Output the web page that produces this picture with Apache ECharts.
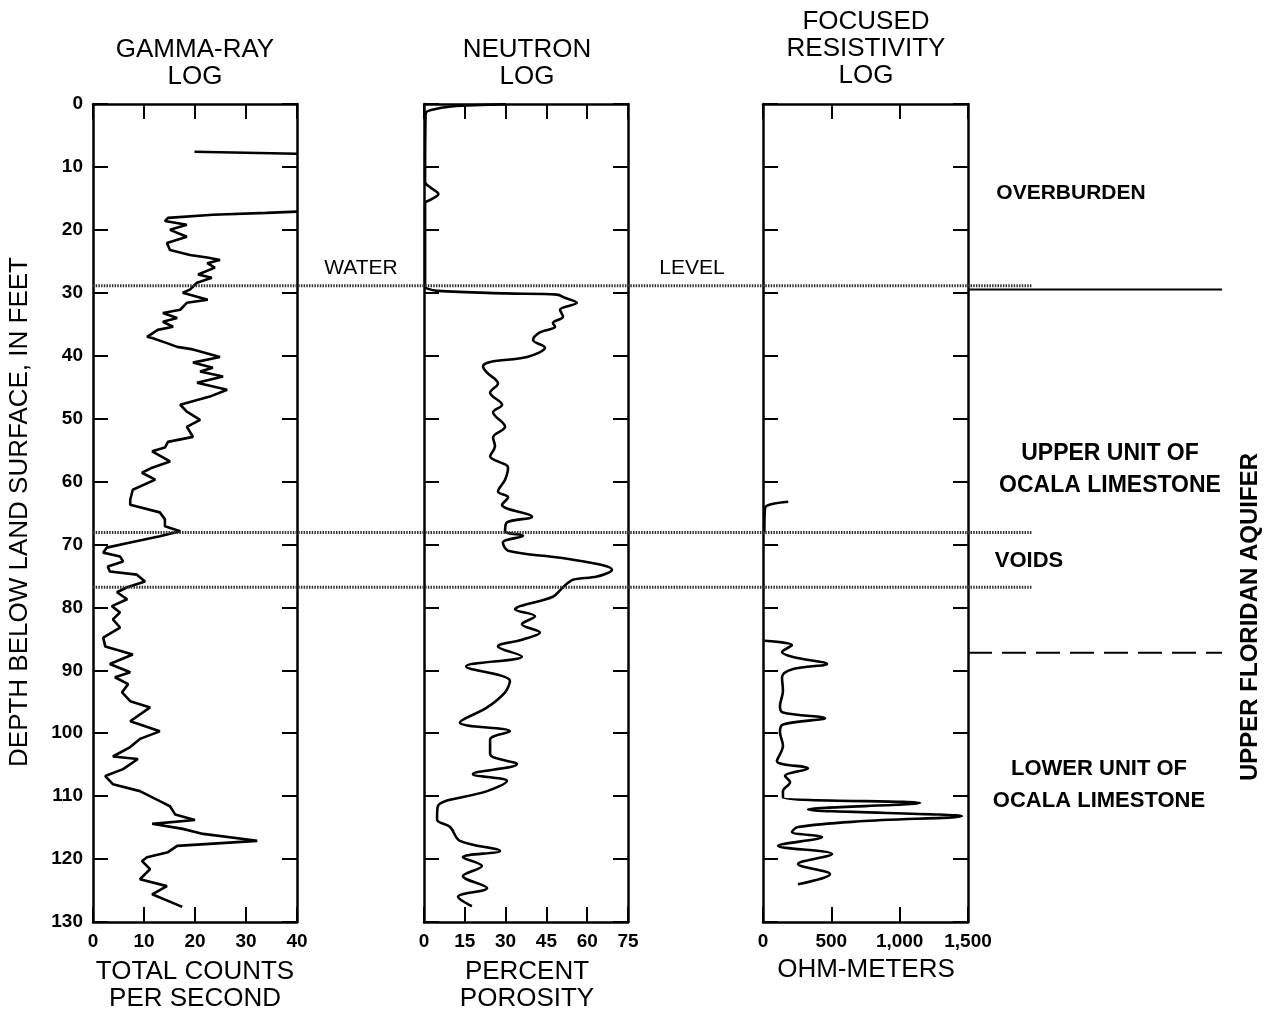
<!DOCTYPE html>
<html>
<head>
<meta charset="utf-8">
<title>Borehole geophysical logs</title>
<script src="https://cdn.jsdelivr.net/npm/echarts@6/dist/echarts.min.js"></script>
<style>
  html, body { margin: 0; padding: 0; background: #fff; }
  #chart { width: 1272px; height: 1018px; }
</style>
</head>
<body>
<div id="chart"></div>
<script>
// ---- Log data: [depth below land surface (ft), reading]; null breaks the trace ----
const gammaRay = [
  [7.6, 19.9], [7.9, 40], null,
  [17.1, 40], [17.3, 34], [17.6, 23.5], [18.1, 14.7], [18.6, 14.1], [19.2, 18.4], [20.0, 15.1],
  [21.1, 18.4], [22.1, 14.5], [23.2, 15.1], [24.0, 19.0], [24.4, 22.4], [24.8, 24.9], [25.3, 22.4],
  [26.0, 23.9], [27.1, 20.6], [27.6, 23.3], [28.4, 20.4], [29.5, 19.0], [30.0, 17.6], [31.1, 22.5],
  [31.6, 18.4], [32.7, 17.1], [33.2, 13.7], [34.0, 16.5], [34.6, 13.7], [35.4, 15.7], [35.9, 12.7],
  [37.0, 10.6], [37.2, 11.6], [38.0, 14.5], [38.6, 16.5], [39.0, 19.6], [40.2, 24.9], [41.1, 19.6],
  [41.9, 23.5], [42.5, 21.0], [43.3, 25.5], [44.3, 20.4], [45.4, 26.3], [46.5, 22.9], [47.8, 17.1],
  [48.9, 18.4], [50.2, 21.0], [51.3, 18.4], [52.9, 19.6], [53.7, 14.7], [54.6, 14.1], [55.2, 11.6],
  [56.8, 15.1], [57.8, 11.6], [58.6, 9.6], [59.7, 12.2], [61.3, 7.8], [62.9, 7.3], [63.7, 7.3],
  [64.9, 13.1], [66.0, 14.1], [67.1, 14.1], [67.9, 17.1], [68.7, 13.1], [69.7, 7.3], [70.5, 2.7],
  [71.3, 2.0], [71.9, 5.3], [72.7, 5.9], [73.5, 2.9], [74.3, 3.3], [74.8, 8.6], [75.9, 10.2],
  [76.8, 6.7], [77.6, 4.7], [78.7, 6.7], [79.8, 3.7], [80.8, 5.3], [81.9, 3.9], [83.2, 5.3],
  [84.8, 2.0], [86.2, 2.4], [87.5, 7.8], [89.0, 3.3], [90.3, 7.3], [91.1, 4.3], [92.2, 6.9],
  [93.5, 5.7], [94.9, 7.3], [95.9, 11.2], [98.1, 7.3], [98.6, 9.2], [99.7, 13.1], [100.9, 9.2],
  [102.2, 7.3], [103.7, 3.9], [104.1, 8.8], [105.7, 5.9], [106.8, 2.4], [108.1, 3.9], [109.2, 9.2],
  [110.8, 13.1], [111.6, 15.1], [112.9, 16.1], [113.8, 20.0], [114.4, 11.6], [115.2, 17.6],
  [116.0, 21.6], [117.1, 32.2], [117.9, 16.5], [118.9, 14.7], [119.7, 10.6], [120.3, 9.6],
  [121.6, 11.2], [123.2, 9.2], [124.3, 14.5], [125.6, 11.6], [127.6, 17.5]
];

const neutron = [
  [0.05, 30], [0.4, 10], [0.9, 3], [1.5, 0.6], [12.4, 0.4], [13.3, 2.5], [14.3, 5.3], [15.2, 2.5],
  [15.8, 0.4], [29.0, 0.4], [29.3, 1.0], [29.7, 5.0], [30.1, 30], [30.3, 48.9], [30.8, 51.8],
  [31.6, 56.2], [32.7, 50.0], [33.8, 51.1], [34.8, 47.4], [35.4, 48.2], [36.3, 42.6], [37.5, 40.1],
  [38.7, 44.5], [40.2, 37.9], [41.0, 24.3], [41.7, 21.7], [42.7, 23.2], [44.4, 27.2], [45.9, 24.3],
  [47.8, 28.7], [49.0, 25.4], [51.3, 29.8], [53.0, 25.4], [54.4, 26.1], [56.0, 24.3], [57.8, 30.9],
  [59.7, 29.8], [61.6, 27.2], [62.5, 30.9], [63.7, 28.7], [65.6, 39.7], [66.5, 30.5], [67.9, 29.8],
  [68.6, 36.4], [69.7, 29.0], [71.0, 30.9], [72.1, 50.0], [73.2, 64.7], [74.0, 69.1], [75.1, 63.6],
  [75.6, 54.8], [76.8, 51.1], [78.3, 47.4], [79.8, 35.3], [80.3, 33.5], [81.4, 40.8], [82.7, 36.0],
  [84.0, 42.6], [85.1, 36.4], [86.2, 27.2], [87.8, 36.0], [89.4, 15.5], [91.7, 31.6], [93.5, 29.8],
  [95.9, 23.2], [98.3, 13.2], [99.7, 31.6], [101.0, 24.3], [103.3, 24.3], [104.9, 34.2], [106.5, 18.0],
  [107.6, 30.5], [109.2, 23.2], [111.6, 5.1], [113.7, 4.8], [114.9, 9.6], [117.1, 13.2], [118.7, 27.9],
  [119.7, 14.3], [121.1, 21.3], [122.7, 14.3], [124.6, 23.2], [126.0, 12.5], [127.5, 17.6]
];

const resistivity = [
  [63.2, 185], [63.6, 60], [64.2, 15], [68.0, 10], null,
  [85.3, 12], [86.0, 212], [87.1, 139], [87.9, 220], [89.0, 468], [89.8, 220], [91.1, 139],
  [93.3, 146], [95.7, 124], [96.7, 146], [97.6, 454], [98.6, 146], [99.8, 124], [102.0, 146],
  [104.4, 102], [105.6, 329], [106.8, 161], [107.8, 198], [109.2, 146], [110.2, 146], [111.1, 1149],
  [112.1, 329], [113.2, 1456], [114.0, 710], [114.9, 256], [115.7, 212], [116.5, 432], [117.9, 110],
  [119.2, 505], [120.8, 256], [122.4, 490], [124.0, 256]
];

// Depths of the horizontal markers (ft)
const waterLevelDepth = 28.9;
const overburdenBaseDepth = 29.5;
const voidsTopDepth = 68.1;
const voidsBaseDepth = 76.8;
const upperUnitBaseDepth = 87.2;

// Axis ranges [min, max, interval]
const depthRange = [0, 130, 10];
const gammaRange = [0, 40, 10];
const neutronRange = [0, 75, 15];
const resistivityRange = [0, 1500, 500];

// ---- Layout ----
const FONT = "'Liberation Sans', Arial, Helvetica, sans-serif";
const PLOT_TOP = 104, PLOT_H = 818;
const tracks = [
  { left: 93, width: 204 },
  { left: 424, width: 204 },
  { left: 763, width: 205 }
];
const SPAN_DOTTED = [93, 1032];      // horizontal extent of dotted markers
const SPAN_RIGHT = [968, 1222];      // extent of solid/dashed boundary markers

const AXIS_LINE = { show: true, onZero: false, lineStyle: { color: '#000', width: 2.5 } };
const TICK = { show: true, inside: true, length: 15, lineStyle: { color: '#000', width: 2 } };

function toXY(log) {
  return log.map(p => p ? [p[1], p[0]] : ['-', '-']);
}

const grids = tracks.map(t => ({ left: t.left, width: t.width, top: PLOT_TOP, height: PLOT_H }));
grids.push({ left: 0, right: 0, top: PLOT_TOP, height: PLOT_H }); // overlay for markers

const xAxes = [];
const yAxes = [];
const ranges = [gammaRange, neutronRange, resistivityRange];
ranges.forEach((r, i) => {
  const base = {
    type: 'value', gridIndex: i, min: r[0], max: r[1], interval: r[2],
    axisLine: AXIS_LINE, axisTick: TICK, splitLine: { show: false }
  };
  xAxes.push(Object.assign({}, base, {
    position: 'bottom',
    axisLabel: {
      show: true, margin: 10, color: '#000', fontFamily: FONT, fontSize: 19, fontWeight: 'bold',
      formatter: v => v.toLocaleString('en-US')
    }
  }));
  xAxes.push(Object.assign({}, base, { position: 'top', axisLabel: { show: false } }));
  const ybase = {
    type: 'value', gridIndex: i, min: depthRange[0], max: depthRange[1], interval: depthRange[2],
    inverse: true, axisLine: AXIS_LINE, axisTick: TICK, splitLine: { show: false }
  };
  yAxes.push(Object.assign({}, ybase, {
    position: 'left',
    axisLabel: {
      show: i === 0, margin: 10, color: '#000', fontFamily: FONT, fontSize: 19, fontWeight: 'bold'
    }
  }));
  yAxes.push(Object.assign({}, ybase, { position: 'right', axisLabel: { show: false } }));
});
// overlay axes (hidden), x measured across the page width
xAxes.push({ type: 'value', gridIndex: 3, min: 0, max: 1272, show: false });
yAxes.push({ type: 'value', gridIndex: 3, min: depthRange[0], max: depthRange[1], inverse: true, show: false });

const OVX = 6, OVY = 6;

function marker(depth, span, lineStyle) {
  return {
    type: 'line', xAxisIndex: OVX, yAxisIndex: OVY, showSymbol: false, silent: true,
    data: [[span[0], depth], [span[1], depth]],
    lineStyle: Object.assign({ color: '#000' }, lineStyle), z: 3
  };
}

const dotted = { color: '#333', width: 3, type: [1.5, 1.2] };

const series = [
  {
    type: 'line', xAxisIndex: 0, yAxisIndex: 0, data: toXY(gammaRay),
    showSymbol: false, connectNulls: false, lineStyle: { color: '#000', width: 2.6 }
  },
  {
    type: 'line', xAxisIndex: 2, yAxisIndex: 2, data: toXY(neutron), smooth: 0.35,
    showSymbol: false, connectNulls: false, lineStyle: { color: '#000', width: 2.6 }
  },
  {
    type: 'line', xAxisIndex: 4, yAxisIndex: 4, data: toXY(resistivity), smooth: 0.35,
    showSymbol: false, connectNulls: false, lineStyle: { color: '#000', width: 2.6 }
  },
  marker(waterLevelDepth, SPAN_DOTTED, dotted),
  marker(voidsTopDepth, SPAN_DOTTED, dotted),
  marker(voidsBaseDepth, SPAN_DOTTED, dotted),
  marker(overburdenBaseDepth, SPAN_RIGHT, { width: 2 }),
  marker(upperUnitBaseDepth, SPAN_RIGHT, { width: 2, type: [24, 10] })
];

function label(text, x, y, opts) {
  opts = opts || {};
  return {
    type: 'text', x: x, y: y, rotation: opts.rotation || 0, silent: true, z: 10,
    style: {
      text: text, x: 0, y: 0, fill: '#000',
      font: (opts.bold ? 'bold ' : '') + (opts.size || 26) + 'px ' + FONT,
      align: 'center', verticalAlign: 'middle',
      textAlign: 'center', textVerticalAlign: 'middle',
      lineHeight: opts.lh || 27
    }
  };
}

const graphics = [
  label('GAMMA-RAY\nLOG', 195, 63),
  label('NEUTRON\nLOG', 527, 63),
  label('FOCUSED\nRESISTIVITY\nLOG', 866, 49),
  label('TOTAL COUNTS\nPER SECOND', 195, 985),
  label('PERCENT\nPOROSITY', 527, 985),
  label('OHM-METERS', 866, 970),
  label('WATER', 361, 268, { size: 21 }),
  label('LEVEL', 692, 268, { size: 21 }),
  label('OVERBURDEN', 1071, 193, { bold: true, size: 21 }),
  label('UPPER UNIT OF\nOCALA LIMESTONE', 1110, 470, { bold: true, size: 23, lh: 32 }),
  label('VOIDS', 1029, 561, { bold: true, size: 22 }),
  label('LOWER UNIT OF\nOCALA LIMESTONE', 1099, 785, { bold: true, size: 22, lh: 32 }),
  label('UPPER FLORIDAN AQUIFER', 1250, 617, { bold: true, size: 24, rotation: Math.PI / 2 }),
  label('DEPTH BELOW LAND SURFACE, IN FEET', 20, 512, { size: 26, rotation: Math.PI / 2 })
];

const chart = echarts.init(document.getElementById('chart'), null, { renderer: 'canvas' });
chart.setOption({
  animation: false,
  backgroundColor: '#fff',
  grid: grids,
  xAxis: xAxes,
  yAxis: yAxes,
  series: series,
  graphic: graphics
});
</script>
</body>
</html>
